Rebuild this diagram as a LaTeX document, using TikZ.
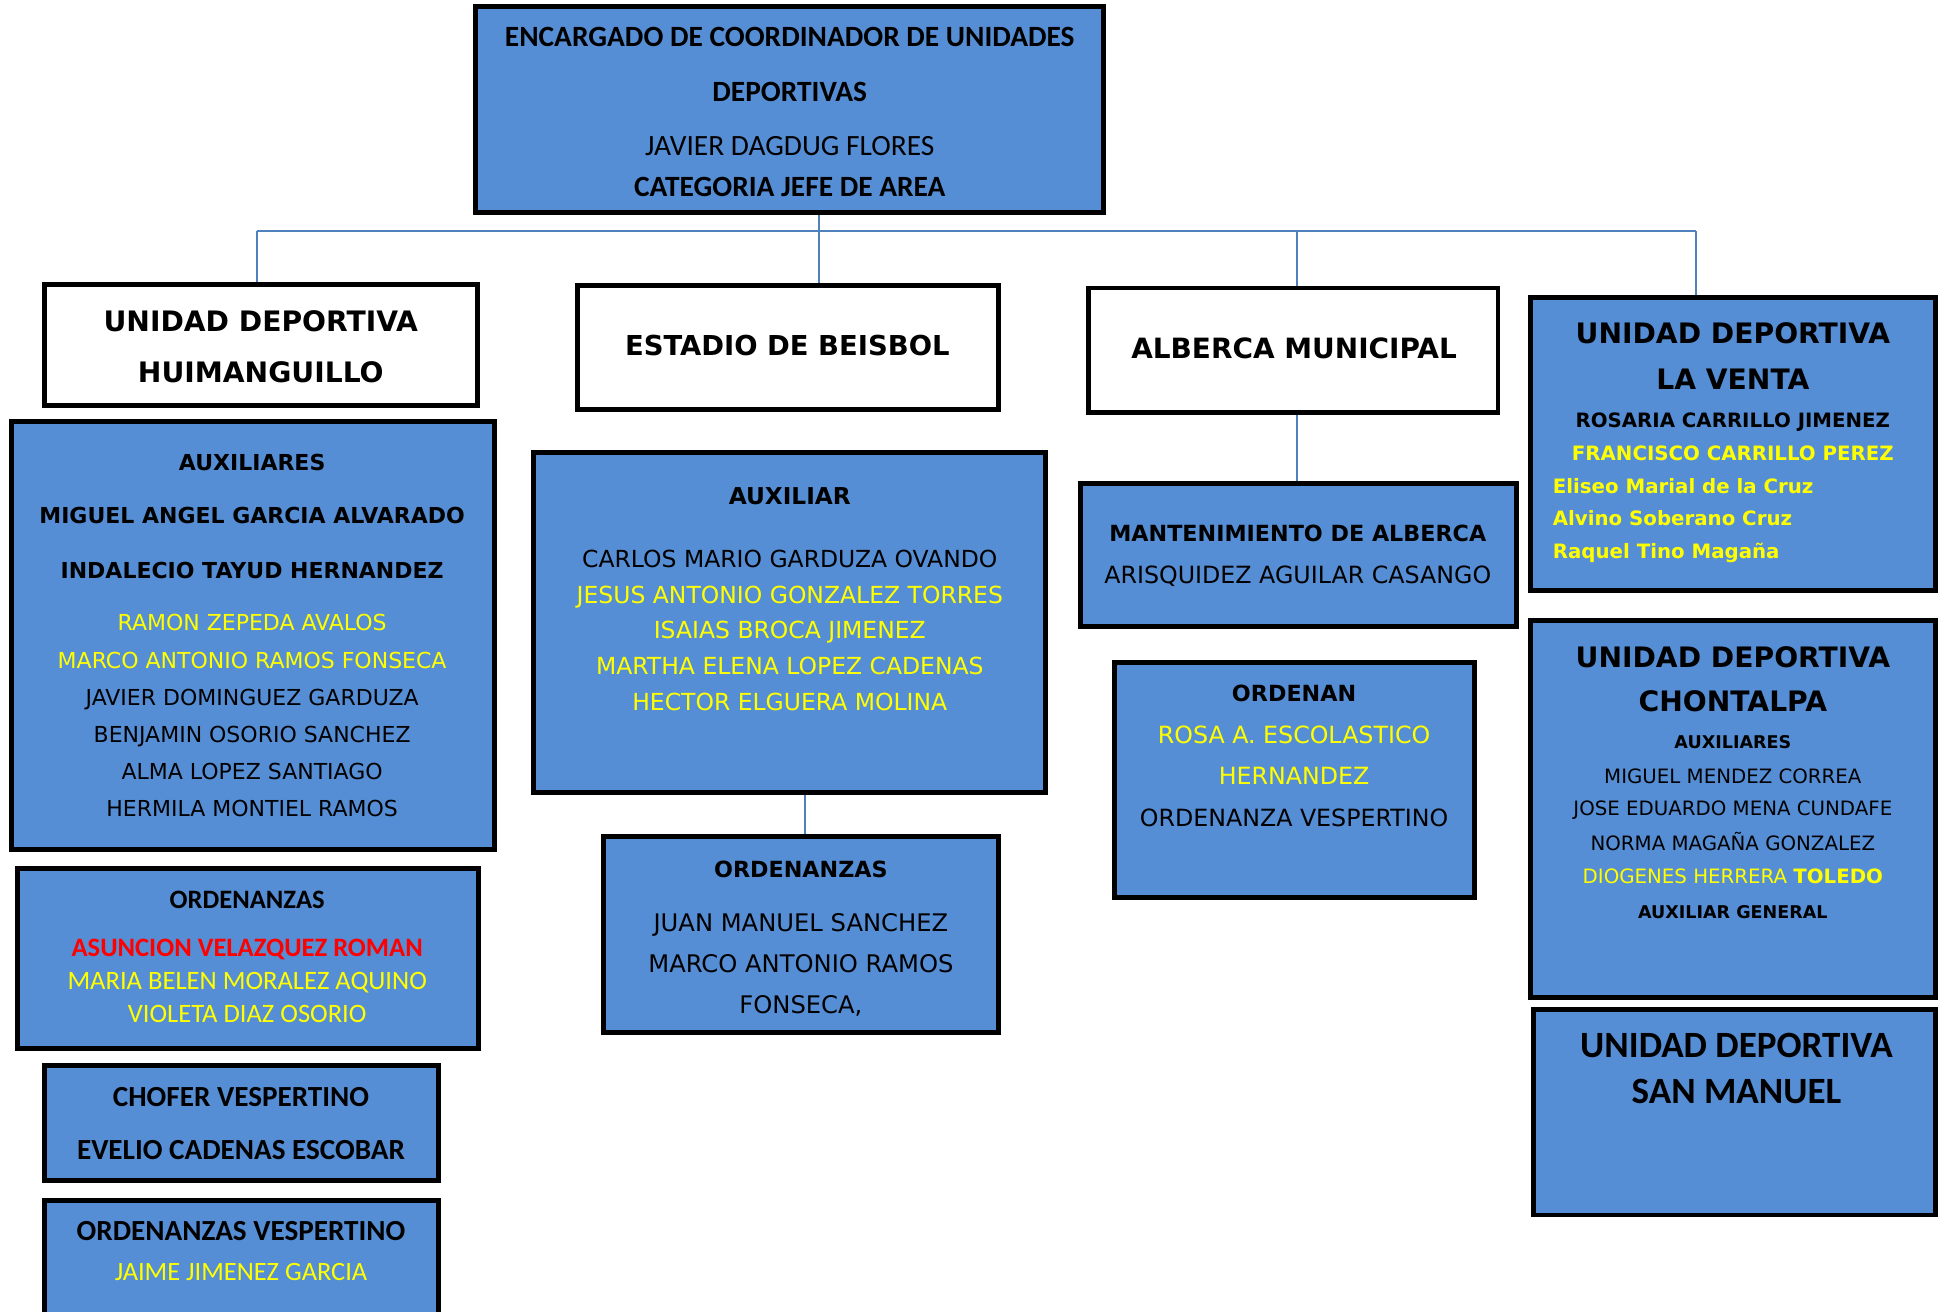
\documentclass[tikz,border=0pt]{standalone}
\usepackage{fontspec}
\setmainfont{DejaVu Sans}
\newfontfamily\verd{DejaVu Sans}
\newfontfamily\calib{Carlito}
\usetikzlibrary{fit}
\definecolor{boxblue}{RGB}{85,142,213}
\definecolor{linkblue}{RGB}{79,129,189}
\definecolor{ylw}{RGB}{255,255,0}
\definecolor{rd}{RGB}{255,0,0}
\newcommand\fsz[1]{\fontsize{#1}{#1}\selectfont}
\tikzset{
 bluebox/.style={draw=black, line width=2pt, fill=boxblue, inner sep=0pt},
 whitebox/.style={draw=black, line width=2pt, fill=white, inner sep=0pt},
 link/.style={draw=linkblue, line width=0.8pt},
 tx/.style={inner sep=0pt, anchor=mid, yshift=-1.2pt},
 V/.style={tx, font=\verd\fsz{#1}},
 VB/.style={tx, font=\verd\bfseries\fsz{#1}},
 C/.style={tx, font=\calib\fsz{#1}},
 CB/.style={tx, font=\calib\bfseries\fsz{#1}},
 yl/.style={text=ylw},
 rdt/.style={text=rd},
}
\begin{document}
\begin{tikzpicture}[x=0.5pt,y=-0.5pt]
\useasboundingbox (0,0) rectangle (1568,1061);
\fill[white] (0,0) rectangle (1568,1061);
\clip (0,0) rectangle (1568,1061);

% junction coordinates
\coordinate (jE) at (663,187);
\coordinate (jH) at (208,187);
\coordinate (jA) at (1049,187);
\coordinate (jL) at (1372,187);
\coordinate (jM) at (1049,360);
\coordinate (jO) at (651,660);

% boxes
\node[bluebox, fit={(385,5) (893,172)}] (top) {};
\node[whitebox, fit={(36,230) (386,328)}] (huW) {};
\node[bluebox, fit={(9,341) (400,687)}] (huA) {};
\node[bluebox, fit={(14,703) (387,848)}] (huO) {};
\node[bluebox, fit={(36,862) (355,955)}] (huC) {};
\node[bluebox, fit={(36,971) (355,1080)}] (huV) {};
\node[whitebox, fit={(467,231) (808,331)}] (esW) {};
\node[bluebox, fit={(432,366) (846,641)}] (esA) {};
\node[bluebox, fit={(488,677) (808,835)}] (esO) {};
\node[whitebox, fit={(881,233) (1212,334)}] (alW) {};
\node[bluebox, fit={(874,391) (1227,507)}] (alM) {};
\node[bluebox, fit={(902,536) (1193,726)}] (alO) {};
\node[bluebox, fit={(1238,241) (1566,478)}] (lv) {};
\node[bluebox, fit={(1238,502) (1566,807)}] (ch) {};
\node[bluebox, fit={(1241,817) (1566,983)}] (sm) {};

% connectors
\draw[link] (top.south -| jE) -- (esW.north -| jE);
\draw[link] (jH) -- (jL);
\draw[link] (jH) -- (huW.north -| jH);
\draw[link] (jA) -- (alW.north -| jA);
\draw[link] (jL) -- (lv.north -| jL);
\draw[link] (alW.south -| jM) -- (alM.north -| jM);
\draw[link] (esA.south -| jO) -- (esO.north -| jO);

% top
\node[CB=11.9] (t1) at (639,30) {ENCARGADO DE COORDINADOR DE UNIDADES};
\node[CB=11.9] (t2) at (639,74) {DEPORTIVAS};
\node[C=11.9] (t3) at (639,118) {JAVIER DAGDUG FLORES};
\node[CB=11.9] (t4) at (639,151) {CATEGORIA JEFE DE AREA};

% Huimanguillo
\node[VB=11.4] (hw1) at (211,260) {UNIDAD DEPORTIVA};
\node[VB=11.4] (hw2) at (211,302) {HUIMANGUILLO};
\node[VB=8.9] (ha1) at (204,373) {AUXILIARES};
\node[VB=8.9] (ha2) at (204,416) {MIGUEL ANGEL GARCIA ALVARADO};
\node[VB=8.9] (ha3) at (204,460) {INDALECIO TAYUD HERNANDEZ};
\node[V=8.9, yl] (ha4) at (204,502) {RAMON ZEPEDA AVALOS};
\node[V=8.9, yl] (ha5) at (204,533) {MARCO ANTONIO RAMOS FONSECA};
\node[V=8.9] (ha6) at (204,563) {JAVIER DOMINGUEZ GARDUZA};
\node[V=8.9] (ha7) at (204,593) {BENJAMIN OSORIO SANCHEZ};
\node[V=8.9] (ha8) at (204,623) {ALMA LOPEZ SANTIAGO};
\node[V=8.9] (ha9) at (204,653) {HERMILA MONTIEL RAMOS};
\node[CB=10.75] (ho1) at (200,727) {ORDENANZAS};
\node[CB=10.75, rdt] (ho2) at (200,766) {ASUNCION VELAZQUEZ ROMAN};
\node[C=10.75, yl] (ho3) at (200,793) {MARIA BELEN MORALEZ AQUINO};
\node[C=10.75, yl] (ho4) at (200,819) {VIOLETA DIAZ OSORIO};
\node[CB=11.8] (hc1) at (195,887) {CHOFER VESPERTINO};
\node[CB=11.8] (hc2) at (195,930) {EVELIO CADENAS ESCOBAR};
\node[CB=11.8] (hv1) at (195,996) {ORDENANZAS VESPERTINO};
\node[C=10.7, yl] (hv2) at (195,1028) {JAIME JIMENEZ GARCIA};

% Estadio
\node[VB=11.1] (ew1) at (637,280) {ESTADIO DE BEISBOL};
\node[VB=9.4] (ea1) at (639,400) {AUXILIAR};
\node[V=9.5] (ea2) at (639,451) {CARLOS MARIO GARDUZA OVANDO};
\node[V=9.5, yl] (ea3) at (639,480) {JESUS ANTONIO GONZALEZ TORRES};
\node[V=9.5, yl] (ea4) at (639,509) {ISAIAS BROCA JIMENEZ};
\node[V=9.5, yl] (ea5) at (639,538) {MARTHA ELENA LOPEZ CADENAS};
\node[V=9.5, yl] (ea6) at (639,567) {HECTOR ELGUERA MOLINA};
\node[VB=9.0] (eo1) at (648,702) {ORDENANZAS};
\node[V=9.8] (eo2) at (648,746) {JUAN MANUEL SANCHEZ};
\node[V=9.8] (eo3) at (648,779) {MARCO ANTONIO RAMOS};
\node[V=9.8] (eo4) at (648,812) {FONSECA,};

% Alberca
\node[VB=11.3] (aw1) at (1047,282) {ALBERCA MUNICIPAL};
\node[VB=9.0] (am1) at (1050,430) {MANTENIMIENTO DE ALBERCA};
\node[V=9.6] (am2) at (1050,464) {ARISQUIDEZ AGUILAR CASANGO};
\node[VB=9.0] (ao1) at (1047,560) {ORDENAN};
\node[V=9.6, yl] (ao2) at (1047,594) {ROSA A. ESCOLASTICO};
\node[V=9.6, yl] (ao3) at (1047,627) {HERNANDEZ};
\node[V=9.6] (ao4) at (1047,661) {ORDENANZA VESPERTINO};

% La Venta
\node[VB=11.4] (lv1) at (1402,270) {UNIDAD DEPORTIVA};
\node[VB=11.4] (lv2) at (1402,307) {LA VENTA};
\node[VB=8.0] (lv3) at (1402,338) {ROSARIA CARRILLO JIMENEZ};
\node[VB=8.0, yl] (lv4) at (1402,365) {FRANCISCO CARRILLO PEREZ};
\node[VB=8.0, yl, anchor=mid west] (lv5) at (1256,391) {Eliseo Marial de la Cruz};
\node[VB=8.0, yl, anchor=mid west] (lv6) at (1256,417) {Alvino Soberano Cruz};
\node[VB=8.0, yl, anchor=mid west] (lv7) at (1256,444) {Raquel Tino Magaña};

% Chontalpa
\node[VB=11.4] (ch1) at (1402,532) {UNIDAD DEPORTIVA};
\node[VB=11.4] (ch2) at (1402,568) {CHONTALPA};
\node[VB=7.1] (ch3) at (1402,598) {AUXILIARES};
\node[V=8.0] (ch4) at (1402,626) {MIGUEL MENDEZ CORREA};
\node[V=8.0] (ch5) at (1402,652) {JOSE EDUARDO MENA CUNDAFE};
\node[V=8.0] (ch6) at (1402,680) {NORMA MAGAÑA GONZALEZ};
\node[V=8.0, yl] (ch7) at (1402,707) {DIOGENES HERRERA \textbf{TOLEDO}};
\node[VB=7.1] (ch8) at (1402,735) {AUXILIAR GENERAL};

% San Manuel
\node[CB=15] (sm1) at (1405,848) {UNIDAD DEPORTIVA};
\node[CB=15] (sm2) at (1405,885) {SAN MANUEL};
\end{tikzpicture}
\end{document}
